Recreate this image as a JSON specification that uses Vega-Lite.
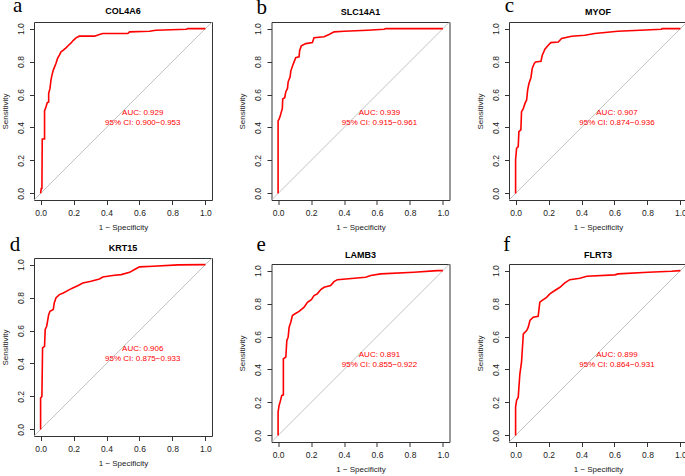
{
  "$schema": "https://vega.github.io/schema/vega-lite/v6.json",
  "background": "white",
  "padding": {"left": 0, "top": -6, "right": 0, "bottom": 0},
  "datasets": {
    "diag": [{"x": -0.04, "y": -0.04, "x2": 1.04, "y2": 1.04}],
    "info": [
      {"gene": "COL4A6", "letter": "a", "auc": "AUC: 0.929", "ci": "95% CI: 0.900−0.953"},
      {"gene": "SLC14A1", "letter": "b", "auc": "AUC: 0.939", "ci": "95% CI: 0.915−0.961"},
      {"gene": "MYOF", "letter": "c", "auc": "AUC: 0.907", "ci": "95% CI: 0.874−0.936"},
      {"gene": "KRT15", "letter": "d", "auc": "AUC: 0.906", "ci": "95% CI: 0.875−0.933"},
      {"gene": "LAMB3", "letter": "e", "auc": "AUC: 0.891", "ci": "95% CI: 0.855−0.922"},
      {"gene": "FLRT3", "letter": "f", "auc": "AUC: 0.899", "ci": "95% CI: 0.864−0.931"}
    ],
    "roc": [
      {"gene":"COL4A6","i":0,"x":0,"y":0},{"gene":"COL4A6","i":1,"x":0.004,"y":0.03},{"gene":"COL4A6","i":2,"x":0.008,"y":0.03},{"gene":"COL4A6","i":3,"x":0.01,"y":0.33},{"gene":"COL4A6","i":4,"x":0.024,"y":0.33},{"gene":"COL4A6","i":5,"x":0.024,"y":0.5},{"gene":"COL4A6","i":6,"x":0.033,"y":0.526},{"gene":"COL4A6","i":7,"x":0.04,"y":0.55},{"gene":"COL4A6","i":8,"x":0.049,"y":0.555},{"gene":"COL4A6","i":9,"x":0.049,"y":0.607},{"gene":"COL4A6","i":10,"x":0.057,"y":0.637},{"gene":"COL4A6","i":11,"x":0.063,"y":0.688},{"gene":"COL4A6","i":12,"x":0.069,"y":0.718},{"gene":"COL4A6","i":13,"x":0.077,"y":0.748},{"gene":"COL4A6","i":14,"x":0.085,"y":0.768},{"gene":"COL4A6","i":15,"x":0.093,"y":0.788},{"gene":"COL4A6","i":16,"x":0.103,"y":0.819},{"gene":"COL4A6","i":17,"x":0.114,"y":0.839},{"gene":"COL4A6","i":18,"x":0.124,"y":0.859},{"gene":"COL4A6","i":19,"x":0.138,"y":0.869},{"gene":"COL4A6","i":20,"x":0.154,"y":0.883},{"gene":"COL4A6","i":21,"x":0.17,"y":0.899},{"gene":"COL4A6","i":22,"x":0.185,"y":0.913},{"gene":"COL4A6","i":23,"x":0.199,"y":0.929},{"gene":"COL4A6","i":24,"x":0.215,"y":0.944},{"gene":"COL4A6","i":25,"x":0.235,"y":0.954},{"gene":"COL4A6","i":26,"x":0.327,"y":0.954},{"gene":"COL4A6","i":27,"x":0.357,"y":0.964},{"gene":"COL4A6","i":28,"x":0.377,"y":0.97},{"gene":"COL4A6","i":29,"x":0.529,"y":0.97},{"gene":"COL4A6","i":30,"x":0.54,"y":0.98},{"gene":"COL4A6","i":31,"x":0.66,"y":0.984},{"gene":"COL4A6","i":32,"x":0.7,"y":0.99},{"gene":"COL4A6","i":33,"x":0.884,"y":0.996},{"gene":"COL4A6","i":34,"x":0.894,"y":1},{"gene":"COL4A6","i":35,"x":1,"y":1},
      {"gene":"SLC14A1","i":0,"x":0,"y":0},{"gene":"SLC14A1","i":1,"x":0,"y":0.44},{"gene":"SLC14A1","i":2,"x":0.006,"y":0.45},{"gene":"SLC14A1","i":3,"x":0.012,"y":0.466},{"gene":"SLC14A1","i":4,"x":0.02,"y":0.496},{"gene":"SLC14A1","i":5,"x":0.026,"y":0.516},{"gene":"SLC14A1","i":6,"x":0.028,"y":0.573},{"gene":"SLC14A1","i":7,"x":0.04,"y":0.581},{"gene":"SLC14A1","i":8,"x":0.047,"y":0.617},{"gene":"SLC14A1","i":9,"x":0.057,"y":0.637},{"gene":"SLC14A1","i":10,"x":0.061,"y":0.677},{"gene":"SLC14A1","i":11,"x":0.073,"y":0.708},{"gene":"SLC14A1","i":12,"x":0.077,"y":0.742},{"gene":"SLC14A1","i":13,"x":0.089,"y":0.778},{"gene":"SLC14A1","i":14,"x":0.097,"y":0.798},{"gene":"SLC14A1","i":15,"x":0.107,"y":0.823},{"gene":"SLC14A1","i":16,"x":0.127,"y":0.829},{"gene":"SLC14A1","i":17,"x":0.131,"y":0.867},{"gene":"SLC14A1","i":18,"x":0.141,"y":0.895},{"gene":"SLC14A1","i":19,"x":0.168,"y":0.909},{"gene":"SLC14A1","i":20,"x":0.208,"y":0.915},{"gene":"SLC14A1","i":21,"x":0.218,"y":0.944},{"gene":"SLC14A1","i":22,"x":0.279,"y":0.95},{"gene":"SLC14A1","i":23,"x":0.309,"y":0.964},{"gene":"SLC14A1","i":24,"x":0.34,"y":0.98},{"gene":"SLC14A1","i":25,"x":0.4,"y":0.984},{"gene":"SLC14A1","i":26,"x":0.542,"y":0.99},{"gene":"SLC14A1","i":27,"x":0.643,"y":0.996},{"gene":"SLC14A1","i":28,"x":0.653,"y":1},{"gene":"SLC14A1","i":29,"x":1,"y":1},
      {"gene":"MYOF","i":0,"x":0,"y":0},{"gene":"MYOF","i":1,"x":0,"y":0.204},{"gene":"MYOF","i":2,"x":0.006,"y":0.274},{"gene":"MYOF","i":3,"x":0.016,"y":0.284},{"gene":"MYOF","i":4,"x":0.02,"y":0.375},{"gene":"MYOF","i":5,"x":0.032,"y":0.385},{"gene":"MYOF","i":6,"x":0.036,"y":0.496},{"gene":"MYOF","i":7,"x":0.046,"y":0.512},{"gene":"MYOF","i":8,"x":0.057,"y":0.546},{"gene":"MYOF","i":9,"x":0.067,"y":0.567},{"gene":"MYOF","i":10,"x":0.073,"y":0.627},{"gene":"MYOF","i":11,"x":0.081,"y":0.667},{"gene":"MYOF","i":12,"x":0.093,"y":0.702},{"gene":"MYOF","i":13,"x":0.101,"y":0.758},{"gene":"MYOF","i":14,"x":0.113,"y":0.788},{"gene":"MYOF","i":15,"x":0.121,"y":0.798},{"gene":"MYOF","i":16,"x":0.154,"y":0.802},{"gene":"MYOF","i":17,"x":0.162,"y":0.839},{"gene":"MYOF","i":18,"x":0.178,"y":0.875},{"gene":"MYOF","i":19,"x":0.198,"y":0.899},{"gene":"MYOF","i":20,"x":0.214,"y":0.915},{"gene":"MYOF","i":21,"x":0.259,"y":0.919},{"gene":"MYOF","i":22,"x":0.279,"y":0.94},{"gene":"MYOF","i":23,"x":0.34,"y":0.954},{"gene":"MYOF","i":24,"x":0.42,"y":0.96},{"gene":"MYOF","i":25,"x":0.48,"y":0.97},{"gene":"MYOF","i":26,"x":0.62,"y":0.984},{"gene":"MYOF","i":27,"x":0.885,"y":0.996},{"gene":"MYOF","i":28,"x":0.889,"y":1},{"gene":"MYOF","i":29,"x":1,"y":1},
      {"gene":"KRT15","i":0,"x":0,"y":0},{"gene":"KRT15","i":1,"x":0,"y":0.19},{"gene":"KRT15","i":2,"x":0.008,"y":0.2},{"gene":"KRT15","i":3,"x":0.012,"y":0.494},{"gene":"KRT15","i":4,"x":0.024,"y":0.504},{"gene":"KRT15","i":5,"x":0.028,"y":0.607},{"gene":"KRT15","i":6,"x":0.037,"y":0.626},{"gene":"KRT15","i":7,"x":0.049,"y":0.696},{"gene":"KRT15","i":8,"x":0.057,"y":0.717},{"gene":"KRT15","i":9,"x":0.077,"y":0.727},{"gene":"KRT15","i":10,"x":0.083,"y":0.767},{"gene":"KRT15","i":11,"x":0.093,"y":0.798},{"gene":"KRT15","i":12,"x":0.114,"y":0.818},{"gene":"KRT15","i":13,"x":0.138,"y":0.828},{"gene":"KRT15","i":14,"x":0.175,"y":0.848},{"gene":"KRT15","i":15,"x":0.195,"y":0.858},{"gene":"KRT15","i":16,"x":0.225,"y":0.872},{"gene":"KRT15","i":17,"x":0.256,"y":0.888},{"gene":"KRT15","i":18,"x":0.306,"y":0.899},{"gene":"KRT15","i":19,"x":0.357,"y":0.913},{"gene":"KRT15","i":20,"x":0.377,"y":0.925},{"gene":"KRT15","i":21,"x":0.448,"y":0.935},{"gene":"KRT15","i":22,"x":0.489,"y":0.939},{"gene":"KRT15","i":23,"x":0.54,"y":0.953},{"gene":"KRT15","i":24,"x":0.57,"y":0.97},{"gene":"KRT15","i":25,"x":0.6,"y":0.986},{"gene":"KRT15","i":26,"x":0.682,"y":0.99},{"gene":"KRT15","i":27,"x":0.834,"y":0.998},{"gene":"KRT15","i":28,"x":1,"y":1},
      {"gene":"LAMB3","i":0,"x":0,"y":0},{"gene":"LAMB3","i":1,"x":0,"y":0.141},{"gene":"LAMB3","i":2,"x":0.006,"y":0.182},{"gene":"LAMB3","i":3,"x":0.012,"y":0.202},{"gene":"LAMB3","i":4,"x":0.022,"y":0.242},{"gene":"LAMB3","i":5,"x":0.032,"y":0.246},{"gene":"LAMB3","i":6,"x":0.032,"y":0.465},{"gene":"LAMB3","i":7,"x":0.047,"y":0.475},{"gene":"LAMB3","i":8,"x":0.053,"y":0.576},{"gene":"LAMB3","i":9,"x":0.061,"y":0.596},{"gene":"LAMB3","i":10,"x":0.067,"y":0.657},{"gene":"LAMB3","i":11,"x":0.077,"y":0.687},{"gene":"LAMB3","i":12,"x":0.087,"y":0.727},{"gene":"LAMB3","i":13,"x":0.101,"y":0.737},{"gene":"LAMB3","i":14,"x":0.127,"y":0.752},{"gene":"LAMB3","i":15,"x":0.158,"y":0.778},{"gene":"LAMB3","i":16,"x":0.178,"y":0.808},{"gene":"LAMB3","i":17,"x":0.202,"y":0.824},{"gene":"LAMB3","i":18,"x":0.218,"y":0.848},{"gene":"LAMB3","i":19,"x":0.238,"y":0.859},{"gene":"LAMB3","i":20,"x":0.259,"y":0.885},{"gene":"LAMB3","i":21,"x":0.279,"y":0.899},{"gene":"LAMB3","i":22,"x":0.319,"y":0.909},{"gene":"LAMB3","i":23,"x":0.339,"y":0.933},{"gene":"LAMB3","i":24,"x":0.36,"y":0.945},{"gene":"LAMB3","i":25,"x":0.531,"y":0.96},{"gene":"LAMB3","i":26,"x":0.562,"y":0.97},{"gene":"LAMB3","i":27,"x":0.622,"y":0.98},{"gene":"LAMB3","i":28,"x":0.824,"y":0.99},{"gene":"LAMB3","i":29,"x":0.966,"y":1},{"gene":"LAMB3","i":30,"x":1,"y":1},
      {"gene":"FLRT3","i":0,"x":0,"y":0},{"gene":"FLRT3","i":1,"x":0,"y":0.172},{"gene":"FLRT3","i":2,"x":0.006,"y":0.212},{"gene":"FLRT3","i":3,"x":0.016,"y":0.232},{"gene":"FLRT3","i":4,"x":0.026,"y":0.374},{"gene":"FLRT3","i":5,"x":0.036,"y":0.444},{"gene":"FLRT3","i":6,"x":0.047,"y":0.616},{"gene":"FLRT3","i":7,"x":0.067,"y":0.636},{"gene":"FLRT3","i":8,"x":0.077,"y":0.657},{"gene":"FLRT3","i":9,"x":0.087,"y":0.697},{"gene":"FLRT3","i":10,"x":0.107,"y":0.717},{"gene":"FLRT3","i":11,"x":0.137,"y":0.723},{"gene":"FLRT3","i":12,"x":0.147,"y":0.808},{"gene":"FLRT3","i":13,"x":0.168,"y":0.824},{"gene":"FLRT3","i":14,"x":0.188,"y":0.838},{"gene":"FLRT3","i":15,"x":0.208,"y":0.859},{"gene":"FLRT3","i":16,"x":0.238,"y":0.879},{"gene":"FLRT3","i":17,"x":0.269,"y":0.899},{"gene":"FLRT3","i":18,"x":0.299,"y":0.925},{"gene":"FLRT3","i":19,"x":0.329,"y":0.945},{"gene":"FLRT3","i":20,"x":0.39,"y":0.954},{"gene":"FLRT3","i":21,"x":0.432,"y":0.966},{"gene":"FLRT3","i":22,"x":0.602,"y":0.974},{"gene":"FLRT3","i":23,"x":0.622,"y":0.98},{"gene":"FLRT3","i":24,"x":0.804,"y":0.99},{"gene":"FLRT3","i":25,"x":0.945,"y":0.996},{"gene":"FLRT3","i":26,"x":1,"y":1}
    ]
  },
  "spacing": 24.5,
  "hconcat": [
    {
      "spacing": 58,
      "bounds": "flush",
      "vconcat": [
        {
          "width": 178, "height": 178,
          "layer": [
            {"data": {"name": "diag"}, "mark": {"type": "rule", "color": "#b3b3b3", "strokeWidth": 0.8}, "encoding": {
              "x": {"field": "x", "type": "quantitative", "title": "1 − Specificity", "scale": {"domain": [-0.04, 1.04], "nice": false, "zero": false}, "axis": {"values": [0, 0.2, 0.4, 0.6, 0.8, 1], "format": ".1f", "labelOverlap": false}},
              "y": {"field": "y", "type": "quantitative", "title": "Sensitivity", "scale": {"domain": [-0.04, 1.04], "nice": false, "zero": false}, "axis": {"values": [0, 0.2, 0.4, 0.6, 0.8, 1], "format": ".1f", "labelOverlap": false}},
              "x2": {"field": "x2"}, "y2": {"field": "y2"}}},
            {"data": {"name": "roc"}, "transform": [{"filter": "datum.gene === 'COL4A6'"}], "mark": {"type": "line", "color": "#ff0000", "strokeWidth": 1.6}, "encoding": {
              "x": {"field": "x", "type": "quantitative", "title": "1 − Specificity", "scale": {"domain": [-0.04, 1.04], "nice": false, "zero": false}, "axis": {"values": [0, 0.2, 0.4, 0.6, 0.8, 1], "format": ".1f", "labelOverlap": false}},
              "y": {"field": "y", "type": "quantitative", "title": "Sensitivity", "scale": {"domain": [-0.04, 1.04], "nice": false, "zero": false}, "axis": {"values": [0, 0.2, 0.4, 0.6, 0.8, 1], "format": ".1f", "labelOverlap": false}},
              "order": {"field": "i", "type": "quantitative"}}},
            {"data": {"name": "info"}, "transform": [{"filter": "datum.gene === 'COL4A6'"}], "mark": {"type": "text", "color": "#ff0000", "font": "Liberation Sans", "fontSize": 8, "align": "center", "baseline": "alphabetic"}, "encoding": {"x": {"datum": 0.62, "scale": {"domain": [-0.04, 1.04], "nice": false, "zero": false}, "axis": {"values": [0, 0.2, 0.4, 0.6, 0.8, 1], "format": ".1f", "labelOverlap": false, "title": "1 − Specificity"}}, "y": {"datum": 0.474, "scale": {"domain": [-0.04, 1.04], "nice": false, "zero": false}, "axis": {"values": [0, 0.2, 0.4, 0.6, 0.8, 1], "format": ".1f", "labelOverlap": false, "title": "Sensitivity"}}, "text": {"field": "auc"}}},
            {"data": {"name": "info"}, "transform": [{"filter": "datum.gene === 'COL4A6'"}], "mark": {"type": "text", "color": "#ff0000", "font": "Liberation Sans", "fontSize": 8, "align": "center", "baseline": "alphabetic"}, "encoding": {"x": {"datum": 0.62, "scale": {"domain": [-0.04, 1.04], "nice": false, "zero": false}, "axis": {"values": [0, 0.2, 0.4, 0.6, 0.8, 1], "format": ".1f", "labelOverlap": false, "title": "1 − Specificity"}}, "y": {"datum": 0.418, "scale": {"domain": [-0.04, 1.04], "nice": false, "zero": false}, "axis": {"values": [0, 0.2, 0.4, 0.6, 0.8, 1], "format": ".1f", "labelOverlap": false, "title": "Sensitivity"}}, "text": {"field": "ci"}}},
            {"data": {"name": "info"}, "transform": [{"filter": "datum.gene === 'COL4A6'"}], "mark": {"type": "text", "color": "#000000", "font": "Liberation Sans", "fontSize": 9, "fontWeight": "bold", "align": "center", "baseline": "alphabetic"}, "encoding": {"x": {"datum": 0.5, "scale": {"domain": [-0.04, 1.04], "nice": false, "zero": false}, "axis": {"values": [0, 0.2, 0.4, 0.6, 0.8, 1], "format": ".1f", "labelOverlap": false, "title": "1 − Specificity"}}, "y": {"datum": 1.087, "scale": {"domain": [-0.04, 1.04], "nice": false, "zero": false}, "axis": {"values": [0, 0.2, 0.4, 0.6, 0.8, 1], "format": ".1f", "labelOverlap": false, "title": "Sensitivity"}}, "text": {"field": "gene"}}},
            {"data": {"name": "info"}, "transform": [{"filter": "datum.gene === 'COL4A6'"}], "mark": {"type": "text", "color": "#000000", "font": "Liberation Serif", "fontSize": 21, "align": "left", "baseline": "alphabetic"}, "encoding": {"x": {"datum": -0.167, "scale": {"domain": [-0.04, 1.04], "nice": false, "zero": false}, "axis": {"values": [0, 0.2, 0.4, 0.6, 0.8, 1], "format": ".1f", "labelOverlap": false, "title": "1 − Specificity"}}, "y": {"datum": 1.099, "scale": {"domain": [-0.04, 1.04], "nice": false, "zero": false}, "axis": {"values": [0, 0.2, 0.4, 0.6, 0.8, 1], "format": ".1f", "labelOverlap": false, "title": "Sensitivity"}}, "text": {"field": "letter"}}}
          ]
        },
        {
          "width": 178, "height": 178,
          "layer": [
            {"data": {"name": "diag"}, "mark": {"type": "rule", "color": "#b3b3b3", "strokeWidth": 0.8}, "encoding": {
              "x": {"field": "x", "type": "quantitative", "title": "1 − Specificity", "scale": {"domain": [-0.04, 1.04], "nice": false, "zero": false}, "axis": {"values": [0, 0.2, 0.4, 0.6, 0.8, 1], "format": ".1f", "labelOverlap": false}},
              "y": {"field": "y", "type": "quantitative", "title": "Sensitivity", "scale": {"domain": [-0.04, 1.04], "nice": false, "zero": false}, "axis": {"values": [0, 0.2, 0.4, 0.6, 0.8, 1], "format": ".1f", "labelOverlap": false}},
              "x2": {"field": "x2"}, "y2": {"field": "y2"}}},
            {"data": {"name": "roc"}, "transform": [{"filter": "datum.gene === 'KRT15'"}], "mark": {"type": "line", "color": "#ff0000", "strokeWidth": 1.6}, "encoding": {
              "x": {"field": "x", "type": "quantitative", "title": "1 − Specificity", "scale": {"domain": [-0.04, 1.04], "nice": false, "zero": false}, "axis": {"values": [0, 0.2, 0.4, 0.6, 0.8, 1], "format": ".1f", "labelOverlap": false}},
              "y": {"field": "y", "type": "quantitative", "title": "Sensitivity", "scale": {"domain": [-0.04, 1.04], "nice": false, "zero": false}, "axis": {"values": [0, 0.2, 0.4, 0.6, 0.8, 1], "format": ".1f", "labelOverlap": false}},
              "order": {"field": "i", "type": "quantitative"}}},
            {"data": {"name": "info"}, "transform": [{"filter": "datum.gene === 'KRT15'"}], "mark": {"type": "text", "color": "#ff0000", "font": "Liberation Sans", "fontSize": 8, "align": "center", "baseline": "alphabetic"}, "encoding": {"x": {"datum": 0.62, "scale": {"domain": [-0.04, 1.04], "nice": false, "zero": false}, "axis": {"values": [0, 0.2, 0.4, 0.6, 0.8, 1], "format": ".1f", "labelOverlap": false, "title": "1 − Specificity"}}, "y": {"datum": 0.474, "scale": {"domain": [-0.04, 1.04], "nice": false, "zero": false}, "axis": {"values": [0, 0.2, 0.4, 0.6, 0.8, 1], "format": ".1f", "labelOverlap": false, "title": "Sensitivity"}}, "text": {"field": "auc"}}},
            {"data": {"name": "info"}, "transform": [{"filter": "datum.gene === 'KRT15'"}], "mark": {"type": "text", "color": "#ff0000", "font": "Liberation Sans", "fontSize": 8, "align": "center", "baseline": "alphabetic"}, "encoding": {"x": {"datum": 0.62, "scale": {"domain": [-0.04, 1.04], "nice": false, "zero": false}, "axis": {"values": [0, 0.2, 0.4, 0.6, 0.8, 1], "format": ".1f", "labelOverlap": false, "title": "1 − Specificity"}}, "y": {"datum": 0.418, "scale": {"domain": [-0.04, 1.04], "nice": false, "zero": false}, "axis": {"values": [0, 0.2, 0.4, 0.6, 0.8, 1], "format": ".1f", "labelOverlap": false, "title": "Sensitivity"}}, "text": {"field": "ci"}}},
            {"data": {"name": "info"}, "transform": [{"filter": "datum.gene === 'KRT15'"}], "mark": {"type": "text", "color": "#000000", "font": "Liberation Sans", "fontSize": 9, "fontWeight": "bold", "align": "center", "baseline": "alphabetic"}, "encoding": {"x": {"datum": 0.5, "scale": {"domain": [-0.04, 1.04], "nice": false, "zero": false}, "axis": {"values": [0, 0.2, 0.4, 0.6, 0.8, 1], "format": ".1f", "labelOverlap": false, "title": "1 − Specificity"}}, "y": {"datum": 1.084, "scale": {"domain": [-0.04, 1.04], "nice": false, "zero": false}, "axis": {"values": [0, 0.2, 0.4, 0.6, 0.8, 1], "format": ".1f", "labelOverlap": false, "title": "Sensitivity"}}, "text": {"field": "gene"}}},
            {"data": {"name": "info"}, "transform": [{"filter": "datum.gene === 'KRT15'"}], "mark": {"type": "text", "color": "#000000", "font": "Liberation Serif", "fontSize": 21, "align": "left", "baseline": "alphabetic"}, "encoding": {"x": {"datum": -0.187, "scale": {"domain": [-0.04, 1.04], "nice": false, "zero": false}, "axis": {"values": [0, 0.2, 0.4, 0.6, 0.8, 1], "format": ".1f", "labelOverlap": false, "title": "1 − Specificity"}}, "y": {"datum": 1.084, "scale": {"domain": [-0.04, 1.04], "nice": false, "zero": false}, "axis": {"values": [0, 0.2, 0.4, 0.6, 0.8, 1], "format": ".1f", "labelOverlap": false, "title": "Sensitivity"}}, "text": {"field": "letter"}}}
          ]
        }
      ]
    },
    {
      "spacing": 64,
      "bounds": "flush",
      "vconcat": [
        {
          "width": 178, "height": 178,
          "layer": [
            {"data": {"name": "diag"}, "mark": {"type": "rule", "color": "#b3b3b3", "strokeWidth": 0.8}, "encoding": {
              "x": {"field": "x", "type": "quantitative", "title": "1 − Specificity", "scale": {"domain": [-0.04, 1.04], "nice": false, "zero": false}, "axis": {"values": [0, 0.2, 0.4, 0.6, 0.8, 1], "format": ".1f", "labelOverlap": false}},
              "y": {"field": "y", "type": "quantitative", "title": "Sensitivity", "scale": {"domain": [-0.04, 1.04], "nice": false, "zero": false}, "axis": {"values": [0, 0.2, 0.4, 0.6, 0.8, 1], "format": ".1f", "labelOverlap": false}},
              "x2": {"field": "x2"}, "y2": {"field": "y2"}}},
            {"data": {"name": "roc"}, "transform": [{"filter": "datum.gene === 'SLC14A1'"}], "mark": {"type": "line", "color": "#ff0000", "strokeWidth": 1.6}, "encoding": {
              "x": {"field": "x", "type": "quantitative", "title": "1 − Specificity", "scale": {"domain": [-0.04, 1.04], "nice": false, "zero": false}, "axis": {"values": [0, 0.2, 0.4, 0.6, 0.8, 1], "format": ".1f", "labelOverlap": false}},
              "y": {"field": "y", "type": "quantitative", "title": "Sensitivity", "scale": {"domain": [-0.04, 1.04], "nice": false, "zero": false}, "axis": {"values": [0, 0.2, 0.4, 0.6, 0.8, 1], "format": ".1f", "labelOverlap": false}},
              "order": {"field": "i", "type": "quantitative"}}},
            {"data": {"name": "info"}, "transform": [{"filter": "datum.gene === 'SLC14A1'"}], "mark": {"type": "text", "color": "#ff0000", "font": "Liberation Sans", "fontSize": 8, "align": "center", "baseline": "alphabetic"}, "encoding": {"x": {"datum": 0.615, "scale": {"domain": [-0.04, 1.04], "nice": false, "zero": false}, "axis": {"values": [0, 0.2, 0.4, 0.6, 0.8, 1], "format": ".1f", "labelOverlap": false, "title": "1 − Specificity"}}, "y": {"datum": 0.474, "scale": {"domain": [-0.04, 1.04], "nice": false, "zero": false}, "axis": {"values": [0, 0.2, 0.4, 0.6, 0.8, 1], "format": ".1f", "labelOverlap": false, "title": "Sensitivity"}}, "text": {"field": "auc"}}},
            {"data": {"name": "info"}, "transform": [{"filter": "datum.gene === 'SLC14A1'"}], "mark": {"type": "text", "color": "#ff0000", "font": "Liberation Sans", "fontSize": 8, "align": "center", "baseline": "alphabetic"}, "encoding": {"x": {"datum": 0.615, "scale": {"domain": [-0.04, 1.04], "nice": false, "zero": false}, "axis": {"values": [0, 0.2, 0.4, 0.6, 0.8, 1], "format": ".1f", "labelOverlap": false, "title": "1 − Specificity"}}, "y": {"datum": 0.418, "scale": {"domain": [-0.04, 1.04], "nice": false, "zero": false}, "axis": {"values": [0, 0.2, 0.4, 0.6, 0.8, 1], "format": ".1f", "labelOverlap": false, "title": "Sensitivity"}}, "text": {"field": "ci"}}},
            {"data": {"name": "info"}, "transform": [{"filter": "datum.gene === 'SLC14A1'"}], "mark": {"type": "text", "color": "#000000", "font": "Liberation Sans", "fontSize": 9, "fontWeight": "bold", "align": "center", "baseline": "alphabetic"}, "encoding": {"x": {"datum": 0.5, "scale": {"domain": [-0.04, 1.04], "nice": false, "zero": false}, "axis": {"values": [0, 0.2, 0.4, 0.6, 0.8, 1], "format": ".1f", "labelOverlap": false, "title": "1 − Specificity"}}, "y": {"datum": 1.085, "scale": {"domain": [-0.04, 1.04], "nice": false, "zero": false}, "axis": {"values": [0, 0.2, 0.4, 0.6, 0.8, 1], "format": ".1f", "labelOverlap": false, "title": "Sensitivity"}}, "text": {"field": "gene"}}},
            {"data": {"name": "info"}, "transform": [{"filter": "datum.gene === 'SLC14A1'"}], "mark": {"type": "text", "color": "#000000", "font": "Liberation Serif", "fontSize": 21, "align": "left", "baseline": "alphabetic"}, "encoding": {"x": {"datum": -0.131, "scale": {"domain": [-0.04, 1.04], "nice": false, "zero": false}, "axis": {"values": [0, 0.2, 0.4, 0.6, 0.8, 1], "format": ".1f", "labelOverlap": false, "title": "1 − Specificity"}}, "y": {"datum": 1.087, "scale": {"domain": [-0.04, 1.04], "nice": false, "zero": false}, "axis": {"values": [0, 0.2, 0.4, 0.6, 0.8, 1], "format": ".1f", "labelOverlap": false, "title": "Sensitivity"}}, "text": {"field": "letter"}}}
          ]
        },
        {
          "width": 178, "height": 178,
          "layer": [
            {"data": {"name": "diag"}, "mark": {"type": "rule", "color": "#b3b3b3", "strokeWidth": 0.8}, "encoding": {
              "x": {"field": "x", "type": "quantitative", "title": "1 − Specificity", "scale": {"domain": [-0.04, 1.04], "nice": false, "zero": false}, "axis": {"values": [0, 0.2, 0.4, 0.6, 0.8, 1], "format": ".1f", "labelOverlap": false}},
              "y": {"field": "y", "type": "quantitative", "title": "Sensitivity", "scale": {"domain": [-0.04, 1.04], "nice": false, "zero": false}, "axis": {"values": [0, 0.2, 0.4, 0.6, 0.8, 1], "format": ".1f", "labelOverlap": false}},
              "x2": {"field": "x2"}, "y2": {"field": "y2"}}},
            {"data": {"name": "roc"}, "transform": [{"filter": "datum.gene === 'LAMB3'"}], "mark": {"type": "line", "color": "#ff0000", "strokeWidth": 1.6}, "encoding": {
              "x": {"field": "x", "type": "quantitative", "title": "1 − Specificity", "scale": {"domain": [-0.04, 1.04], "nice": false, "zero": false}, "axis": {"values": [0, 0.2, 0.4, 0.6, 0.8, 1], "format": ".1f", "labelOverlap": false}},
              "y": {"field": "y", "type": "quantitative", "title": "Sensitivity", "scale": {"domain": [-0.04, 1.04], "nice": false, "zero": false}, "axis": {"values": [0, 0.2, 0.4, 0.6, 0.8, 1], "format": ".1f", "labelOverlap": false}},
              "order": {"field": "i", "type": "quantitative"}}},
            {"data": {"name": "info"}, "transform": [{"filter": "datum.gene === 'LAMB3'"}], "mark": {"type": "text", "color": "#ff0000", "font": "Liberation Sans", "fontSize": 8, "align": "center", "baseline": "alphabetic"}, "encoding": {"x": {"datum": 0.615, "scale": {"domain": [-0.04, 1.04], "nice": false, "zero": false}, "axis": {"values": [0, 0.2, 0.4, 0.6, 0.8, 1], "format": ".1f", "labelOverlap": false, "title": "1 − Specificity"}}, "y": {"datum": 0.474, "scale": {"domain": [-0.04, 1.04], "nice": false, "zero": false}, "axis": {"values": [0, 0.2, 0.4, 0.6, 0.8, 1], "format": ".1f", "labelOverlap": false, "title": "Sensitivity"}}, "text": {"field": "auc"}}},
            {"data": {"name": "info"}, "transform": [{"filter": "datum.gene === 'LAMB3'"}], "mark": {"type": "text", "color": "#ff0000", "font": "Liberation Sans", "fontSize": 8, "align": "center", "baseline": "alphabetic"}, "encoding": {"x": {"datum": 0.615, "scale": {"domain": [-0.04, 1.04], "nice": false, "zero": false}, "axis": {"values": [0, 0.2, 0.4, 0.6, 0.8, 1], "format": ".1f", "labelOverlap": false, "title": "1 − Specificity"}}, "y": {"datum": 0.418, "scale": {"domain": [-0.04, 1.04], "nice": false, "zero": false}, "axis": {"values": [0, 0.2, 0.4, 0.6, 0.8, 1], "format": ".1f", "labelOverlap": false, "title": "Sensitivity"}}, "text": {"field": "ci"}}},
            {"data": {"name": "info"}, "transform": [{"filter": "datum.gene === 'LAMB3'"}], "mark": {"type": "text", "color": "#000000", "font": "Liberation Sans", "fontSize": 9, "fontWeight": "bold", "align": "center", "baseline": "alphabetic"}, "encoding": {"x": {"datum": 0.5, "scale": {"domain": [-0.04, 1.04], "nice": false, "zero": false}, "axis": {"values": [0, 0.2, 0.4, 0.6, 0.8, 1], "format": ".1f", "labelOverlap": false, "title": "1 − Specificity"}}, "y": {"datum": 1.076, "scale": {"domain": [-0.04, 1.04], "nice": false, "zero": false}, "axis": {"values": [0, 0.2, 0.4, 0.6, 0.8, 1], "format": ".1f", "labelOverlap": false, "title": "Sensitivity"}}, "text": {"field": "gene"}}},
            {"data": {"name": "info"}, "transform": [{"filter": "datum.gene === 'LAMB3'"}], "mark": {"type": "text", "color": "#000000", "font": "Liberation Serif", "fontSize": 21, "align": "left", "baseline": "alphabetic"}, "encoding": {"x": {"datum": -0.131, "scale": {"domain": [-0.04, 1.04], "nice": false, "zero": false}, "axis": {"values": [0, 0.2, 0.4, 0.6, 0.8, 1], "format": ".1f", "labelOverlap": false, "title": "1 − Specificity"}}, "y": {"datum": 1.121, "scale": {"domain": [-0.04, 1.04], "nice": false, "zero": false}, "axis": {"values": [0, 0.2, 0.4, 0.6, 0.8, 1], "format": ".1f", "labelOverlap": false, "title": "Sensitivity"}}, "text": {"field": "letter"}}}
          ]
        }
      ]
    },
    {
      "spacing": 64,
      "bounds": "flush",
      "vconcat": [
        {
          "width": 178, "height": 178,
          "layer": [
            {"data": {"name": "diag"}, "mark": {"type": "rule", "color": "#b3b3b3", "strokeWidth": 0.8}, "encoding": {
              "x": {"field": "x", "type": "quantitative", "title": "1 − Specificity", "scale": {"domain": [-0.04, 1.04], "nice": false, "zero": false}, "axis": {"values": [0, 0.2, 0.4, 0.6, 0.8, 1], "format": ".1f", "labelOverlap": false}},
              "y": {"field": "y", "type": "quantitative", "title": "Sensitivity", "scale": {"domain": [-0.04, 1.04], "nice": false, "zero": false}, "axis": {"values": [0, 0.2, 0.4, 0.6, 0.8, 1], "format": ".1f", "labelOverlap": false}},
              "x2": {"field": "x2"}, "y2": {"field": "y2"}}},
            {"data": {"name": "roc"}, "transform": [{"filter": "datum.gene === 'MYOF'"}], "mark": {"type": "line", "color": "#ff0000", "strokeWidth": 1.6}, "encoding": {
              "x": {"field": "x", "type": "quantitative", "title": "1 − Specificity", "scale": {"domain": [-0.04, 1.04], "nice": false, "zero": false}, "axis": {"values": [0, 0.2, 0.4, 0.6, 0.8, 1], "format": ".1f", "labelOverlap": false}},
              "y": {"field": "y", "type": "quantitative", "title": "Sensitivity", "scale": {"domain": [-0.04, 1.04], "nice": false, "zero": false}, "axis": {"values": [0, 0.2, 0.4, 0.6, 0.8, 1], "format": ".1f", "labelOverlap": false}},
              "order": {"field": "i", "type": "quantitative"}}},
            {"data": {"name": "info"}, "transform": [{"filter": "datum.gene === 'MYOF'"}], "mark": {"type": "text", "color": "#ff0000", "font": "Liberation Sans", "fontSize": 8, "align": "center", "baseline": "alphabetic"}, "encoding": {"x": {"datum": 0.615, "scale": {"domain": [-0.04, 1.04], "nice": false, "zero": false}, "axis": {"values": [0, 0.2, 0.4, 0.6, 0.8, 1], "format": ".1f", "labelOverlap": false, "title": "1 − Specificity"}}, "y": {"datum": 0.474, "scale": {"domain": [-0.04, 1.04], "nice": false, "zero": false}, "axis": {"values": [0, 0.2, 0.4, 0.6, 0.8, 1], "format": ".1f", "labelOverlap": false, "title": "Sensitivity"}}, "text": {"field": "auc"}}},
            {"data": {"name": "info"}, "transform": [{"filter": "datum.gene === 'MYOF'"}], "mark": {"type": "text", "color": "#ff0000", "font": "Liberation Sans", "fontSize": 8, "align": "center", "baseline": "alphabetic"}, "encoding": {"x": {"datum": 0.615, "scale": {"domain": [-0.04, 1.04], "nice": false, "zero": false}, "axis": {"values": [0, 0.2, 0.4, 0.6, 0.8, 1], "format": ".1f", "labelOverlap": false, "title": "1 − Specificity"}}, "y": {"datum": 0.418, "scale": {"domain": [-0.04, 1.04], "nice": false, "zero": false}, "axis": {"values": [0, 0.2, 0.4, 0.6, 0.8, 1], "format": ".1f", "labelOverlap": false, "title": "Sensitivity"}}, "text": {"field": "ci"}}},
            {"data": {"name": "info"}, "transform": [{"filter": "datum.gene === 'MYOF'"}], "mark": {"type": "text", "color": "#000000", "font": "Liberation Sans", "fontSize": 9, "fontWeight": "bold", "align": "center", "baseline": "alphabetic"}, "encoding": {"x": {"datum": 0.5, "scale": {"domain": [-0.04, 1.04], "nice": false, "zero": false}, "axis": {"values": [0, 0.2, 0.4, 0.6, 0.8, 1], "format": ".1f", "labelOverlap": false, "title": "1 − Specificity"}}, "y": {"datum": 1.08, "scale": {"domain": [-0.04, 1.04], "nice": false, "zero": false}, "axis": {"values": [0, 0.2, 0.4, 0.6, 0.8, 1], "format": ".1f", "labelOverlap": false, "title": "Sensitivity"}}, "text": {"field": "gene"}}},
            {"data": {"name": "info"}, "transform": [{"filter": "datum.gene === 'MYOF'"}], "mark": {"type": "text", "color": "#000000", "font": "Liberation Serif", "fontSize": 21, "align": "left", "baseline": "alphabetic"}, "encoding": {"x": {"datum": -0.066, "scale": {"domain": [-0.04, 1.04], "nice": false, "zero": false}, "axis": {"values": [0, 0.2, 0.4, 0.6, 0.8, 1], "format": ".1f", "labelOverlap": false, "title": "1 − Specificity"}}, "y": {"datum": 1.101, "scale": {"domain": [-0.04, 1.04], "nice": false, "zero": false}, "axis": {"values": [0, 0.2, 0.4, 0.6, 0.8, 1], "format": ".1f", "labelOverlap": false, "title": "Sensitivity"}}, "text": {"field": "letter"}}}
          ]
        },
        {
          "width": 178, "height": 178,
          "layer": [
            {"data": {"name": "diag"}, "mark": {"type": "rule", "color": "#b3b3b3", "strokeWidth": 0.8}, "encoding": {
              "x": {"field": "x", "type": "quantitative", "title": "1 − Specificity", "scale": {"domain": [-0.04, 1.04], "nice": false, "zero": false}, "axis": {"values": [0, 0.2, 0.4, 0.6, 0.8, 1], "format": ".1f", "labelOverlap": false}},
              "y": {"field": "y", "type": "quantitative", "title": "Sensitivity", "scale": {"domain": [-0.04, 1.04], "nice": false, "zero": false}, "axis": {"values": [0, 0.2, 0.4, 0.6, 0.8, 1], "format": ".1f", "labelOverlap": false}},
              "x2": {"field": "x2"}, "y2": {"field": "y2"}}},
            {"data": {"name": "roc"}, "transform": [{"filter": "datum.gene === 'FLRT3'"}], "mark": {"type": "line", "color": "#ff0000", "strokeWidth": 1.6}, "encoding": {
              "x": {"field": "x", "type": "quantitative", "title": "1 − Specificity", "scale": {"domain": [-0.04, 1.04], "nice": false, "zero": false}, "axis": {"values": [0, 0.2, 0.4, 0.6, 0.8, 1], "format": ".1f", "labelOverlap": false}},
              "y": {"field": "y", "type": "quantitative", "title": "Sensitivity", "scale": {"domain": [-0.04, 1.04], "nice": false, "zero": false}, "axis": {"values": [0, 0.2, 0.4, 0.6, 0.8, 1], "format": ".1f", "labelOverlap": false}},
              "order": {"field": "i", "type": "quantitative"}}},
            {"data": {"name": "info"}, "transform": [{"filter": "datum.gene === 'FLRT3'"}], "mark": {"type": "text", "color": "#ff0000", "font": "Liberation Sans", "fontSize": 8, "align": "center", "baseline": "alphabetic"}, "encoding": {"x": {"datum": 0.615, "scale": {"domain": [-0.04, 1.04], "nice": false, "zero": false}, "axis": {"values": [0, 0.2, 0.4, 0.6, 0.8, 1], "format": ".1f", "labelOverlap": false, "title": "1 − Specificity"}}, "y": {"datum": 0.474, "scale": {"domain": [-0.04, 1.04], "nice": false, "zero": false}, "axis": {"values": [0, 0.2, 0.4, 0.6, 0.8, 1], "format": ".1f", "labelOverlap": false, "title": "Sensitivity"}}, "text": {"field": "auc"}}},
            {"data": {"name": "info"}, "transform": [{"filter": "datum.gene === 'FLRT3'"}], "mark": {"type": "text", "color": "#ff0000", "font": "Liberation Sans", "fontSize": 8, "align": "center", "baseline": "alphabetic"}, "encoding": {"x": {"datum": 0.615, "scale": {"domain": [-0.04, 1.04], "nice": false, "zero": false}, "axis": {"values": [0, 0.2, 0.4, 0.6, 0.8, 1], "format": ".1f", "labelOverlap": false, "title": "1 − Specificity"}}, "y": {"datum": 0.418, "scale": {"domain": [-0.04, 1.04], "nice": false, "zero": false}, "axis": {"values": [0, 0.2, 0.4, 0.6, 0.8, 1], "format": ".1f", "labelOverlap": false, "title": "Sensitivity"}}, "text": {"field": "ci"}}},
            {"data": {"name": "info"}, "transform": [{"filter": "datum.gene === 'FLRT3'"}], "mark": {"type": "text", "color": "#000000", "font": "Liberation Sans", "fontSize": 9, "fontWeight": "bold", "align": "center", "baseline": "alphabetic"}, "encoding": {"x": {"datum": 0.5, "scale": {"domain": [-0.04, 1.04], "nice": false, "zero": false}, "axis": {"values": [0, 0.2, 0.4, 0.6, 0.8, 1], "format": ".1f", "labelOverlap": false, "title": "1 − Specificity"}}, "y": {"datum": 1.076, "scale": {"domain": [-0.04, 1.04], "nice": false, "zero": false}, "axis": {"values": [0, 0.2, 0.4, 0.6, 0.8, 1], "format": ".1f", "labelOverlap": false, "title": "Sensitivity"}}, "text": {"field": "gene"}}},
            {"data": {"name": "info"}, "transform": [{"filter": "datum.gene === 'FLRT3'"}], "mark": {"type": "text", "color": "#000000", "font": "Liberation Serif", "fontSize": 21, "align": "left", "baseline": "alphabetic"}, "encoding": {"x": {"datum": -0.075, "scale": {"domain": [-0.04, 1.04], "nice": false, "zero": false}, "axis": {"values": [0, 0.2, 0.4, 0.6, 0.8, 1], "format": ".1f", "labelOverlap": false, "title": "1 − Specificity"}}, "y": {"datum": 1.116, "scale": {"domain": [-0.04, 1.04], "nice": false, "zero": false}, "axis": {"values": [0, 0.2, 0.4, 0.6, 0.8, 1], "format": ".1f", "labelOverlap": false, "title": "Sensitivity"}}, "text": {"field": "letter"}}}
          ]
        }
      ]
    }
  ],
  "config": {
    "view": {"stroke": "#333333", "strokeWidth": 1},
    "axis": {
      "grid": false, "domain": false, "tickColor": "#333333", "tickSize": 4.5,
      "labelFont": "Liberation Sans", "labelFontSize": 8.5, "labelColor": "#222222",
      "titleFont": "Liberation Sans", "titleFontSize": 8, "titleFontWeight": "normal", "titleColor": "#222222",
      "labelFlush": false, "labelOverlap": false
    },
    "axisX": {"labelPadding": 4.3, "titlePadding": 6.5},
    "axisY": {"labelAngle": -90, "labelAlign": "center", "labelBaseline": "bottom", "labelPadding": 4.5, "titlePadding": 7}
  }
}
